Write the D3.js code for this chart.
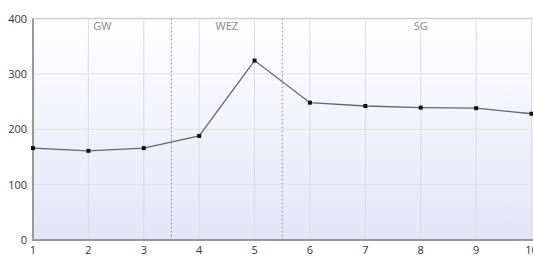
<!DOCTYPE html>
<html><head><meta charset="utf-8">
<script src="https://cdn.jsdelivr.net/npm/d3@7"></script>
<style>html,body{margin:0;padding:0;background:#fff;}svg{display:block;}</style>
</head><body>
<svg id="c" width="533" height="256"></svg>
<script>
const xValues = [1,2,3,4,5,6,7,8,9,10];
const yValues = [166,161,166,188,324,248,242,239,238,228];
const yTicks = [0,100,200,300,400];
const regionNames = ["GW","WEZ","SG"];
const regionStarts = [1,3.5,5.5];
const regionEnds = [3.5,5.5,10.5];

const svg = d3.select("#c");
const L = 33, R = 531.5, T = 18.5, B = 240;
const x = d3.scaleLinear().domain([1,10]).range([L,R]);
const y = d3.scaleLinear().domain([0,400]).range([B,T]);

const defs = svg.append("defs");
const g = defs.append("linearGradient").attr("id","bg").attr("x1",0).attr("y1",0).attr("x2",0).attr("y2",1);
g.append("stop").attr("offset","0%").attr("stop-color","#ffffff");
g.append("stop").attr("offset","100%").attr("stop-color","#e4e4f8");
svg.append("rect").attr("x",L).attr("y",T).attr("width",533-L).attr("height",B-T).attr("fill","url(#bg)");

// grid
svg.append("g").selectAll("line").data(yTicks.slice(1)).join("line")
  .attr("x1",L).attr("x2",533).attr("y1",d=>y(d)).attr("y2",d=>y(d))
  .attr("stroke", d=>d===400?"#cfcfcf":"#e2e2e6").attr("stroke-width",d=>d===400?1.5:1);
svg.append("g").selectAll("line").data(xValues.slice(1)).join("line")
  .attr("x1",d=>x(d)).attr("x2",d=>x(d)).attr("y1",T).attr("y2",B)
  .attr("stroke","#dcdce4").attr("stroke-width",1);

// region separators
svg.append("g").selectAll("line").data(regionStarts.slice(1)).join("line")
  .attr("x1",d=>x(d)).attr("x2",d=>x(d)).attr("y1",T).attr("y2",B)
  .attr("stroke","#9a9aa8").attr("stroke-width",1).attr("stroke-dasharray","2,2");
svg.append("g").selectAll("text").data(regionNames).join("text")
  .attr("x",(d,i)=>x((regionStarts[i]+regionEnds[i])/2)).attr("y",T+11)
  .attr("text-anchor","middle").attr("font-family","Open Sans, sans-serif").attr("font-size",11)
  .attr("fill","#888").text(d=>d);

// axes
svg.append("line").attr("x1",L).attr("x2",L).attr("y1",T).attr("y2",B+1).attr("stroke","#999").attr("stroke-width",2);
svg.append("line").attr("x1",L).attr("x2",533).attr("y1",B).attr("y2",B).attr("stroke","#999").attr("stroke-width",2);

svg.append("g").selectAll("text").data(yTicks).join("text")
  .attr("x",27).attr("y",d=>y(d)+4).attr("text-anchor","end")
  .attr("font-family","Open Sans, sans-serif").attr("font-size",11).attr("fill","#333").text(d=>d);
svg.append("g").selectAll("text").data(xValues).join("text")
  .attr("x",d=>x(d)).attr("y",254).attr("text-anchor","middle")
  .attr("font-family","Open Sans, sans-serif").attr("font-size",11).attr("fill","#333").text(d=>d);

// line
const pts = xValues.map((d,i)=>[d,yValues[i]]);
svg.append("path").datum(pts).attr("fill","none").attr("stroke","#666").attr("stroke-width",1.3)
  .attr("d", d3.line().x(d=>x(d[0])).y(d=>y(d[1])));
svg.append("g").selectAll("rect").data(pts).join("rect")
  .attr("x",d=>x(d[0])-2).attr("y",d=>y(d[1])-2).attr("width",4).attr("height",4).attr("fill","#111");
</script>
</body></html>
